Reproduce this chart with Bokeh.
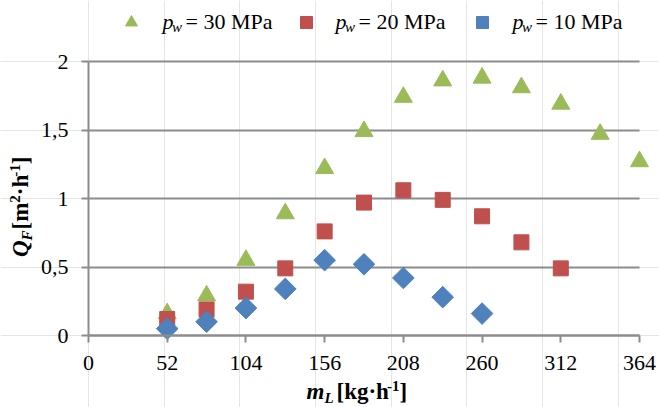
import math
from bokeh.plotting import figure
from bokeh.models import (Label, Legend, LegendItem, FixedTicker, Range1d,
                          LinearAxis, Grid)
from bokeh.embed import file_html
from bokeh.resources import INLINE

# ---- data ----
x_ticks = [0, 52, 104, 156, 208, 260, 312, 364]
y_ticks = [0, 0.5, 1, 1.5, 2]
y_tick_labels = ["0", "0,5", "1", "1,5", "2"]

m30 = [52, 78, 104, 130, 156, 182, 208, 234, 260, 286, 312, 338, 364]
q30 = [0.16, 0.29, 0.55, 0.89, 1.22, 1.49, 1.74, 1.86, 1.88, 1.81, 1.69, 1.47, 1.27]

m20 = [52, 78, 104, 130, 156, 182, 208, 234, 260, 286, 312]
q20 = [0.12, 0.19, 0.32, 0.49, 0.76, 0.97, 1.06, 0.99, 0.87, 0.68, 0.49]

m10 = [52, 78, 104, 130, 156, 182, 208, 234, 260]
q10 = [0.05, 0.10, 0.20, 0.34, 0.55, 0.52, 0.42, 0.28, 0.16]

series_names = ["30 MPa", "20 MPa", "10 MPa"]

GREEN = "#9BBB59"
RED = "#C0504D"
BLUE = "#4F81BD"
GRAY = "#8c8c8c"
FONT = "Liberation Serif"

# ---- layout: the frame covers the whole canvas; plot box is placed by ranges ----
W, H = 659, 407
PL, PR, PT, PB = 88, 639, 61, 335          # plotting box in canvas pixels
XMAX, YMAX = x_ticks[-1], y_ticks[-1]
SX = (PR - PL) / XMAX                       # px per x unit
SY = (PB - PT) / YMAX                       # px per y unit

def dx(X):
    return (X - PL) / SX

def dy(Y):
    return (PB - Y) / SY

p = figure(width=W, height=H, output_backend="svg", toolbar_location=None,
           x_range=Range1d(dx(0), dx(W)), y_range=Range1d(dy(H), dy(0)),
           x_axis_location=None, y_axis_location=None,
           min_border=0, min_border_left=0, min_border_right=0,
           min_border_top=0, min_border_bottom=0)
p.outline_line_color = None
p.background_fill_color = "white"
p.border_fill_color = "white"

# grid lines, limited to the plotting box
if "cross_bounds" in Grid.properties():
    grid = Grid(dimension=1, ticker=FixedTicker(ticks=y_ticks),
                cross_bounds=(0, XMAX), grid_line_color=GRAY, grid_line_width=2)
    p.add_layout(grid)
else:
    p.segment(x0=[0] * len(y_ticks), x1=[XMAX] * len(y_ticks), y0=y_ticks,
              y1=y_ticks, line_color=GRAY, line_width=2)

xaxis = LinearAxis(fixed_location=0, bounds=(0, XMAX),
                   ticker=FixedTicker(ticks=x_ticks), major_label_standoff=13)
yaxis = LinearAxis(fixed_location=0, bounds=(0, YMAX),
                   ticker=FixedTicker(ticks=y_ticks), major_label_standoff=13,
                   major_label_overrides={t: s for t, s in zip(y_ticks, y_tick_labels)})
for ax in (xaxis, yaxis):
    ax.axis_line_color = GRAY
    ax.axis_line_width = 2
    ax.major_tick_line_color = GRAY
    ax.major_tick_line_width = 2
    ax.major_tick_in = 0
    ax.major_tick_out = 7
    ax.minor_tick_line_color = None
    ax.major_label_text_font = FONT
    ax.major_label_text_font_size = "22px"
    ax.major_label_text_color = "black"
p.add_layout(xaxis, "below")
p.add_layout(yaxis, "left")

r30 = p.scatter(m30, q30, marker="triangle", size=18, fill_color=GREEN, line_color=GREEN)
r20 = p.scatter(m20, q20, marker="square", size=15, fill_color=RED, line_color=RED)
r10 = p.scatter(m10, q10, marker="square", size=15.3, angle=math.pi / 4,
                fill_color=BLUE, line_color=BLUE)

# ---- rich text made of pieces (approximate Times advance widths, em units) ----
ADV = {
    "normal": {"=": .564, " ": .25, "0": .5, "1": .5, "2": .5, "3": .5,
               "M": .889, "P": .556, "a": .444},
    "bold": {"[": .333, "]": .333, "k": .556, "g": .5, "·": .25, "h": .556,
             "m": .833, "-": .333, "1": .5, "2": .5},
    "bold italic": {"m": .778, "Q": .722, "F": .667, "L": .611},
    "italic": {"p": .5, "w": .667},
}
FIX = 0.45   # baseline correction (em) observed for Label text

def width(text, size, style):
    return sum(ADV[style].get(c, .5) for c in text) * size

def rich(pieces, X, Y, angle=0.0):
    """pieces: (text, size, style, shift) ; shift > 0 moves the piece down."""
    pos = 0.0
    for text, size, style, shift in pieces:
        up = FIX * size
        if angle == 0:
            xx, yy = X + pos, Y + shift - up
        else:
            xx, yy = X + shift - up, Y - pos
        p.add_layout(Label(x=dx(xx), y=dy(yy), text=text, text_font=FONT,
                           text_font_size=f"{size}px", text_font_style=style,
                           text_baseline="alphabetic", text_align="left",
                           angle=angle, text_color="black"))
        pos += width(text, size, style)

# ---- legend: markers via Legend models, texts via labels ----
legend_marker_x = [131, 306, 481.5]
legend_text_x = [162, 335, 512]
GW = 30
for rend, mx in zip([r30, r20, r10], legend_marker_x):
    lg = Legend(items=[LegendItem(label=" ", renderers=[rend])],
                location=(mx - GW / 2, H - (22 + GW / 2)),
                glyph_width=GW, glyph_height=GW, padding=0, margin=0,
                spacing=0, label_standoff=0, label_width=0, label_height=0,
                label_text_font_size="1px", border_line_color=None,
                background_fill_alpha=0)
    p.add_layout(lg)

for name, tx in zip(series_names, legend_text_x):
    rich([("p", 22, "italic", 0)], tx, 31)
    rich([("w", 15, "italic", 0)], tx + 9.5, 33.5)
    rich([("= " + name, 22, "normal", 0)], tx + 23, 31)

# ---- axis titles ----
rich([("m", 23, "bold italic", 0), ("L", 15, "bold italic", 3)], 306, 401)
rich([("[kg·h", 23, "bold", 0), ("-1", 15, "bold", -9), ("]", 23, "bold", 0)], 336, 401)

A = math.pi / 2
rich([("Q", 23, "bold italic", 0), ("F", 15, "bold italic", 3)], 30, 256.5, A)
rich([("[m", 23, "bold", 0), ("2", 15, "bold", -9), ("·h", 23, "bold", 0),
      ("-1", 15, "bold", -9), ("]", 23, "bold", 0)], 30, 229, A)

open("out.html", "w").write(file_html(p, INLINE))
